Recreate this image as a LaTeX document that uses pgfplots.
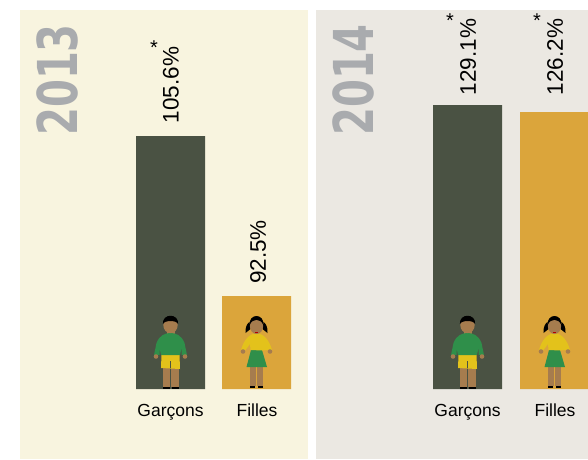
\documentclass[border=0pt]{standalone}
\usepackage{pgfplots}
\pgfplotsset{compat=1.18}
\usepackage{fontspec}
\setmainfont{Liberation Sans}
\newfontfamily\yearfont{DejaVu Sans}[BoldFont=DejaVu Sans Bold]
\definecolor{panelA}{HTML}{F8F4DF}
\definecolor{panelB}{HTML}{EBE8E2}
\definecolor{barDark}{HTML}{4A5243}
\definecolor{barGold}{HTML}{DBA53B}
\definecolor{yearGrey}{HTML}{A9ABAE}
\definecolor{txt}{HTML}{2E2E2E}
\definecolor{skin}{HTML}{A67C4E}
\definecolor{shirtG}{HTML}{2F8F4A}
\definecolor{yel}{HTML}{E3C21B}
% figures: origin at bar base centre, 1 unit = 1 px
\newcommand{\boy}[1]{%
\begin{scope}[shift={(axis cs:#1,0)},x=1pt,y=1pt]
\fill[black] (-8,0) rectangle (-1,2.2);
\fill[black] (1,0) rectangle (8,2.2);
\fill[skin] (-8,2) rectangle (-0.6,22);
\fill[skin] (0.6,2) rectangle (8,22);
\fill[yel] (-9.5,21) -- (9.5,20) -- (9,34.5) -- (-9,34.5) -- cycle;
\fill[barDark] (-0.6,21) rectangle (0.6,28);
\fill[skin] (-4,50) rectangle (4,58);
\fill[shirtG] (-9.5,34) -- (9.5,34) -- (11,41) -- (11,34) -- (16.5,34) -- (14,46) .. controls (11,54) and (5,56) .. (0,56) .. controls (-5,56) and (-11,54) .. (-14,46) -- (-16.5,34) -- (-11,34) -- (-11,41) -- cycle;
\fill[skin] (-14.5,32.5) circle (2.3);
\fill[skin] (14.5,32.5) circle (2.3);
\fill[skin] (0,64) ellipse (7.2 and 8.2);
\fill[black] (-7.6,65) .. controls (-8.5,76) and (8.5,76) .. (7.6,65) .. controls (6,69) and (-6,69) .. (-7.6,65) -- cycle;
\end{scope}}
\newcommand{\girl}[1]{%
\begin{scope}[shift={(axis cs:#1,0)},x=1pt,y=1pt]
\fill[black] (-7,1.5) rectangle (-2,3.5);
\fill[black] (1,1.5) rectangle (6,3.5);
\fill[skin] (-6.5,3) rectangle (-0.8,24);
\fill[skin] (0.8,3) rectangle (6.5,24);
\fill[shirtG] (-5.5,39) -- (5.5,39) -- (10.5,22) -- (-10,22) -- cycle;
\fill[yel] (-6,39) -- (6,38.5) -- (11,39) -- (15.5,39) .. controls (13,48) and (8,55) .. (0,56) .. controls (-8,55) and (-13,48) .. (-15.5,39) -- (-11,39) -- (-6.5,45) -- cycle;
\fill[skin] (-13.5,37.5) circle (2.3);
\fill[skin] (13.5,37.5) circle (2.3);
\fill[black] (-11,56) .. controls (-11.5,62) and (-9,66) .. (-7,67) -- (-6,60) -- cycle;
\fill[black] (11,56) .. controls (11.5,62) and (9,66) .. (7,67) -- (6,60) -- cycle;
\fill[skin] (0,63) ellipse (6.6 and 8);
\fill[red!70!black] (-1.3,56.5) rectangle (1.3,57.5);
\fill[black] (-6.8,64) .. controls (-8,76) and (8,76) .. (6.8,64) .. controls (4,71) and (-4,71) .. (-6.8,64) -- cycle;
\end{scope}}
\begin{document}
\begin{tikzpicture}
\path[use as bounding box] (0,0) rectangle (588pt,459pt);
\begin{axis}[
  at={(0,0)}, anchor=south west,
  scale only axis, width=588pt, height=459pt,
  xmin=0, xmax=588, ymin=-70, ymax=389,
  axis lines=none, ticks=none, clip=true,
  ybar, bar shift=0pt, bar width=69pt,
  every node/.append style={text=txt},
]
% panels
\fill[panelA] (axis cs:20,-70) rectangle (axis cs:308,379);
\fill[panelB] (axis cs:316,-70) rectangle (axis cs:588,379);
% bars (heights as drawn in the reference)
\addplot[fill=barDark,draw=none] coordinates {(170.5,253) (467.5,284)};
\addplot[fill=barGold,draw=none] coordinates {(256.5,93) (554.5,277)};
\boy{170.5}
\girl{256.5}
\boy{467.5}
\girl{554.5}
% years
\node[rotate=90,text=yearGrey,font=\yearfont\bfseries\fontsize{55}{55}\selectfont,xscale=0.73] at (axis cs:57,309) {2013};
\node[rotate=90,text=yearGrey,font=\yearfont\bfseries\fontsize{55}{55}\selectfont,xscale=0.73] at (axis cs:353,309) {2014};
% value labels
\foreach \x/\y/\t in {171/304/105.6\%,258/137/92.5\%,468/332/129.1\%,555/332/126.2\%}{
  \edef\tmp{\noexpand\node[rotate=90,font=\noexpand\fontsize{22.5}{23}\noexpand\selectfont] at (axis cs:\x,\y) {\t};}\tmp
}
\foreach \x/\y in {154/341,450/368,537/368}{
  \edef\tmp{\noexpand\node[font=\noexpand\fontsize{20}{20}\noexpand\selectfont] at (axis cs:\x,\y) {*};}\tmp
}
% categories
\foreach \x/\t in {170.5/Garçons,257/Filles,467.5/Garçons,555/Filles}{
  \edef\tmp{\noexpand\node[anchor=base,font=\noexpand\fontsize{17.5}{18}\noexpand\selectfont] at (axis cs:\x,-27) {\t};}\tmp
}
\end{axis}
\end{tikzpicture}
\end{document}
